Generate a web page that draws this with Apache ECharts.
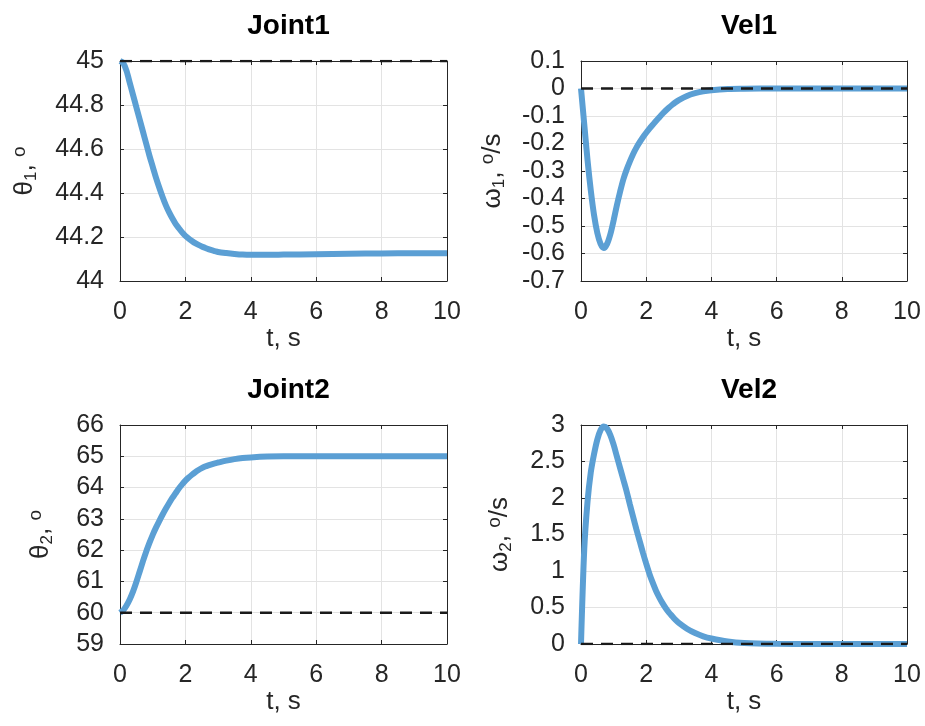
<!DOCTYPE html>
<html>
<head>
<meta charset="utf-8">
<script src="https://cdn.jsdelivr.net/npm/echarts@6/dist/echarts.min.js"></script>
<style>
  html, body { margin: 0; padding: 0; background: #fff; }
  #chart { width: 925px; height: 726px; }
</style>
</head>
<body>
<div id="chart"></div>
<script>
// Time samples (s) shared by all four responses
const timeS = [0, 0.1, 0.2, 0.3, 0.4, 0.5, 0.6, 0.7, 0.8, 0.9, 1.0,
  1.1, 1.2, 1.3, 1.4, 1.5, 1.6, 1.7, 1.8, 1.9, 2.0,
  2.1, 2.2, 2.3, 2.4, 2.5, 2.6, 2.7, 2.8, 2.9, 3.0,
  3.25, 3.5, 3.75, 4, 4.5, 5, 6, 7, 8, 9, 10];

// Joint 1 angle (deg)
const theta1 = [45, 44.99, 44.955, 44.90, 44.845, 44.79, 44.735, 44.68, 44.625, 44.57, 44.52,
  44.47, 44.425, 44.383, 44.345, 44.313, 44.285, 44.26, 44.24, 44.221, 44.205,
  44.193, 44.182, 44.172, 44.164, 44.157, 44.151, 44.145, 44.14, 44.136, 44.132,
  44.127, 44.123, 44.12, 44.119, 44.119, 44.12, 44.122, 44.124, 44.125, 44.126, 44.126];

// Joint 1 velocity (deg/s)
const omega1 = [0, -0.13, -0.26, -0.37, -0.46, -0.525, -0.565, -0.58, -0.565, -0.53, -0.48,
  -0.425, -0.375, -0.33, -0.295, -0.265, -0.238, -0.215, -0.195, -0.177, -0.161,
  -0.146, -0.132, -0.118, -0.105, -0.092, -0.08, -0.069, -0.059, -0.05, -0.042,
  -0.027, -0.017, -0.01, -0.006, -0.002, -0.001, 0, 0, 0, 0, 0];

// Joint 2 angle (deg)
const theta2 = [60, 60.08, 60.23, 60.43, 60.68, 60.98, 61.31, 61.64, 61.95, 62.23, 62.49,
  62.72, 62.93, 63.13, 63.32, 63.5, 63.67, 63.82, 63.97, 64.1, 64.22,
  64.32, 64.41, 64.49, 64.56, 64.62, 64.67, 64.71, 64.745, 64.775, 64.8,
  64.86, 64.91, 64.945, 64.965, 64.99, 65, 65, 65, 65, 65, 65];

// Joint 2 velocity (deg/s)
const omega2 = [0, 1.3, 1.95, 2.35, 2.6, 2.8, 2.93, 2.98, 2.95, 2.86, 2.73,
  2.57, 2.41, 2.25, 2.09, 1.91, 1.74, 1.57, 1.41, 1.25, 1.1,
  0.96, 0.84, 0.73, 0.64, 0.56, 0.49, 0.43, 0.38, 0.33, 0.29,
  0.21, 0.15, 0.105, 0.075, 0.035, 0.015, 0.003, 0, 0, 0, 0];

// Reference (initial) values drawn as dashed lines
const refValues = [45, 0, 60, 0];

// Panel titles and axis ranges
const titles = ['Joint1', 'Vel1', 'Joint2', 'Vel2'];
const yRanges = [
  { min: 44, max: 45, interval: 0.2 },
  { min: -0.7, max: 0.1, interval: 0.1 },
  { min: 59, max: 66, interval: 1 },
  { min: 0, max: 3, interval: 0.5 }
];
const yNames = [
  '{g|θ}{sub|1}{g|, }{sup|o}',
  '{g|ω}{sub|1}{g|, }{sup|o}{g|/s}',
  '{g|θ}{sub|2}{g|, }{sup|o}',
  '{g|ω}{sub|2}{g|, }{sup|o}{g|/s}'
];
const xName = 't, s';

const series = [theta1, omega1, theta2, omega2];

const FONT = '"Liberation Sans", Arial, Helvetica, sans-serif';
const TXT = '#262626';

const grids = [
  { left: 120, top: 61, width: 327, height: 220 },
  { left: 581, top: 61, width: 326, height: 220 },
  { left: 120, top: 425, width: 327, height: 219 },
  { left: 581, top: 425, width: 326, height: 219 }
];
const yNameGaps = [80, 73, 64, 66];

const xAxes = [], yAxes = [], seriesList = [], titleList = [];

grids.forEach((g, i) => {
  // bottom axis with labels + top axis for the box and inner ticks
  xAxes.push({
    type: 'value', gridIndex: i, min: 0, max: 10, interval: 2,
    name: xName, nameLocation: 'middle', nameGap: 45,
    nameTextStyle: { fontFamily: FONT, fontSize: 26, color: TXT },
    axisLine: { show: true, onZero: false, lineStyle: { color: TXT, width: 1 } },
    axisTick: { show: true, inside: true, length: 4, lineStyle: { color: TXT } },
    axisLabel: { fontFamily: FONT, fontSize: 25, color: TXT, margin: 19 },
    splitLine: { show: true, lineStyle: { color: '#e3e3e3', width: 1 } }
  });
  xAxes.push({
    type: 'value', gridIndex: i, min: 0, max: 10, interval: 2, position: 'top',
    axisLine: { show: true, onZero: false, lineStyle: { color: TXT, width: 1 } },
    axisTick: { show: true, inside: true, length: 4, lineStyle: { color: TXT } },
    axisLabel: { show: false }, splitLine: { show: false }
  });
  const r = yRanges[i];
  yAxes.push({
    type: 'value', gridIndex: i, min: r.min, max: r.max, interval: r.interval,
    name: yNames[i], nameLocation: 'middle', nameGap: yNameGaps[i], nameRotate: 90,
    nameTextStyle: {
      fontFamily: FONT, color: TXT,
      rich: {
        g: { fontFamily: FONT, fontSize: 26, color: TXT, lineHeight: 30 },
        sub: { fontFamily: FONT, fontSize: 17, color: TXT, lineHeight: 14, verticalAlign: 'bottom' },
        sup: { fontFamily: FONT, fontSize: 19, color: TXT, lineHeight: 16, verticalAlign: 'top' }
      }
    },
    axisLine: { show: true, onZero: false, lineStyle: { color: TXT, width: 1 } },
    axisTick: { show: true, inside: true, length: 4, lineStyle: { color: TXT } },
    axisLabel: {
      fontFamily: FONT, fontSize: 25, color: TXT, margin: 16,
      formatter: v => String(Math.round(v * 100) / 100)
    },
    splitLine: { show: true, lineStyle: { color: '#e3e3e3', width: 1 } }
  });
  yAxes.push({
    type: 'value', gridIndex: i, min: r.min, max: r.max, interval: r.interval, position: 'right',
    axisLine: { show: true, onZero: false, lineStyle: { color: TXT, width: 1 } },
    axisTick: { show: true, inside: true, length: 4, lineStyle: { color: TXT } },
    axisLabel: { show: false }, splitLine: { show: false }
  });

  titleList.push({
    text: titles[i],
    left: g.left + g.width / 2, top: i < 2 ? 7 : 371,
    textAlign: 'center',
    textStyle: { fontFamily: FONT, fontSize: 28, fontWeight: 'bold', color: '#000' }
  });

  seriesList.push({
    type: 'line', xAxisIndex: 2 * i, yAxisIndex: 2 * i,
    data: timeS.map((t, k) => [t, series[i][k]]),
    smooth: 0.3, showSymbol: false, silent: true,
    lineStyle: { color: '#5b9fd4', width: 6 },
    z: 2
  });
  seriesList.push({
    type: 'line', xAxisIndex: 2 * i, yAxisIndex: 2 * i,
    data: [[0, refValues[i]], [10, refValues[i]]],
    showSymbol: false, silent: true,
    lineStyle: { color: '#1a1a1a', width: 2.5, type: [12, 8] },
    z: 3
  });
});

const chart = echarts.init(document.getElementById('chart'), null, { renderer: 'canvas' });
chart.setOption({
  backgroundColor: '#ffffff',
  animation: false,
  title: titleList,
  grid: grids,
  xAxis: xAxes,
  yAxis: yAxes,
  series: seriesList
});
</script>
</body>
</html>
